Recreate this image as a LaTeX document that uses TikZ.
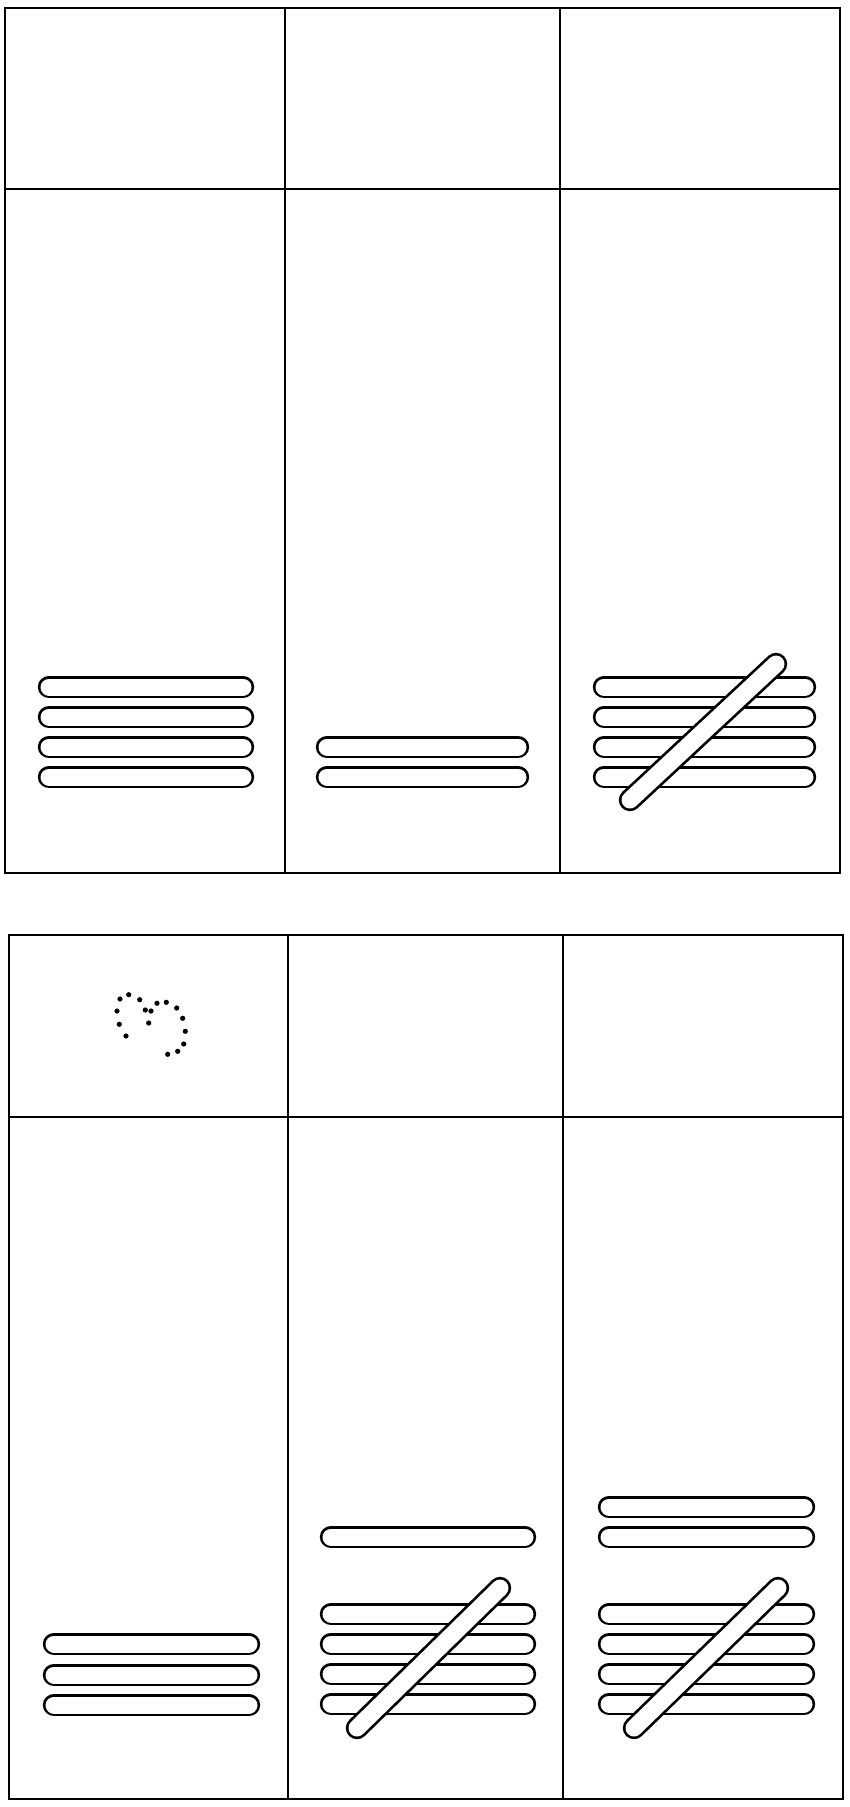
\documentclass[tikz,border=0pt]{standalone}
\usepackage{tikz}
\usetikzlibrary{positioning}

\begin{document}
\begin{tikzpicture}[
    x=1pt, y=-1pt,
    frame/.style={draw, line width=2.9pt},
    capsule/.style={double=white, double distance=17pt, line width=2.7pt, line cap=round},
    blob/.style={circle, fill, inner sep=0pt, minimum size=5.2pt}]

  \useasboundingbox[fill=white] (0,0) rectangle (849,1807);

  % === Panel: top ===
  \draw[frame] (5,8) rectangle (840,873);
  \draw[frame] (285,8) -- (285,873);
  \draw[frame] (560,8) -- (560,873);
  \draw[frame] (5,189) -- (840,189);

  % Stacks of bars
  \foreach \y in {687,717,747,777}
    \draw[capsule] (49,\y) -- (243,\y);
  \foreach \y in {747,777}
    \draw[capsule] (327,\y) -- (518,\y);
  \foreach \y in {687,717,747,777}
    \draw[capsule] (604,\y) -- (805,\y);

  % Crossing bar
  \draw[capsule] (630,800) -- (776,664);

  % === Panel: bottom ===
  \draw[frame] (9,935) rectangle (843,1799);
  \draw[frame] (288,935) -- (288,1799);
  \draw[frame] (563,935) -- (563,1799);
  \draw[frame] (9,1117) -- (843,1117);

  % Dotted mark in the header
  \foreach \px/\py [count=\i] in {120/999, 128.7/994.7, 139.7/999.7, 117/1011,
      119.3/1024.3, 126/1036, 145.3/1010, 151/1011, 148.7/1023, 157/1003.3,
      166.3/1002.3, 176.7/1008, 182.7/1018.3, 185.3/1031.3, 183.7/1044,
      177.7/1051.3, 167.7/1054.3}
    \node[blob] (dot\i) at (\px,\py) {};

  % Stacks of bars
  \foreach \y in {1644,1675,1705}
    \draw[capsule] (54,\y) -- (249,\y);
  \draw[capsule] (331,1537) -- (525,1537);
  \foreach \y in {1614,1644,1674,1704}
    \draw[capsule] (331,\y) -- (525,\y);
  \foreach \y in {1507,1537}
    \draw[capsule] (609,\y) -- (804,\y);
  \foreach \y in {1614,1644,1674,1704}
    \draw[capsule] (609,\y) -- (804,\y);

  % Crossing bars
  \draw[capsule] (357,1728) -- (500,1588);
  \draw[capsule] (634,1728) -- (778,1588);

\end{tikzpicture}
\end{document}
